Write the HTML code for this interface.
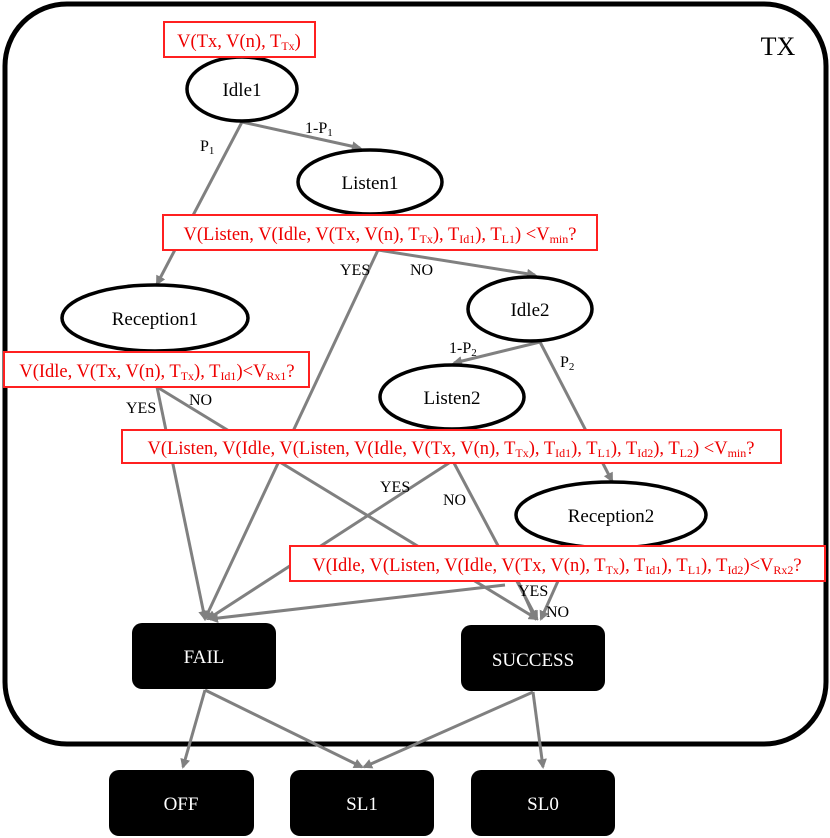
<!DOCTYPE html>
<html><head><style>body{margin:0;background:#fff}svg{display:block}</style></head><body>
<svg width="830" height="838" viewBox="0 0 830 838" xmlns="http://www.w3.org/2000/svg" font-family="Liberation Serif, serif">
<defs><marker id="a" markerWidth="10" markerHeight="10" refX="8" refY="5" orient="auto" markerUnits="userSpaceOnUse"><path d="M0,0 L10,5 L0,10 z" fill="#808080"/></marker></defs>
<rect x="5" y="4" width="821" height="740" rx="62" fill="none" stroke="#000" stroke-width="5"/>
<text x="778" y="55" font-size="26" text-anchor="middle">TX</text>
<g stroke="#808080" stroke-width="3" fill="none">
<line x1="242" y1="122" x2="360" y2="148" marker-end="url(#a)"/>
<line x1="242" y1="122" x2="157" y2="284" marker-end="url(#a)"/>
<line x1="378" y1="250" x2="205" y2="619" marker-end="url(#a)"/>
<line x1="378" y1="250" x2="535" y2="275" marker-end="url(#a)"/>
<line x1="540" y1="342" x2="454" y2="363" marker-end="url(#a)"/>
<line x1="540" y1="342" x2="612" y2="481" marker-end="url(#a)"/>
<line x1="157" y1="387" x2="205" y2="619" marker-end="url(#a)"/>
<line x1="157" y1="387" x2="537" y2="619" marker-end="url(#a)"/>
<line x1="449" y1="463" x2="208" y2="619" marker-end="url(#a)"/>
<line x1="454" y1="463" x2="537" y2="619" marker-end="url(#a)"/>
<line x1="505" y1="585" x2="210" y2="619" marker-end="url(#a)"/>
<line x1="518" y1="581" x2="535" y2="619" marker-end="url(#a)"/>
<line x1="558" y1="581" x2="541" y2="619" marker-end="url(#a)"/>
<line x1="205" y1="690" x2="183" y2="767" marker-end="url(#a)"/>
<line x1="205" y1="690" x2="362" y2="767" marker-end="url(#a)"/>
<line x1="533" y1="692" x2="364" y2="767" marker-end="url(#a)"/>
<line x1="533" y1="692" x2="543" y2="767" marker-end="url(#a)"/>
</g>
<g fill="#fff" stroke="#000" stroke-width="3.5">
<ellipse cx="242" cy="89" rx="55" ry="32"/>
<ellipse cx="370" cy="182" rx="72" ry="32"/>
<ellipse cx="155" cy="318" rx="93" ry="33"/>
<ellipse cx="530" cy="309" rx="62" ry="32"/>
<ellipse cx="452" cy="397" rx="72" ry="32"/>
<ellipse cx="611" cy="515" rx="95" ry="33"/>
</g>
<g font-size="19" text-anchor="middle">
<text x="242" y="96">Idle1</text>
<text x="370" y="189">Listen1</text>
<text x="155" y="325">Reception1</text>
<text x="530" y="316">Idle2</text>
<text x="452" y="404">Listen2</text>
<text x="611" y="522">Reception2</text>
</g>
<g fill="#fff" stroke="#ff2020" stroke-width="2">
<rect x="164" y="22" width="151" height="35"/>
<rect x="163" y="215" width="434" height="35"/>
<rect x="4" y="352" width="305" height="35"/>
<rect x="122" y="430" width="659" height="33"/>
<rect x="290" y="546" width="535" height="35"/>
</g>
<g fill="#e00" font-size="18.5" text-anchor="middle">
<text x="239" y="47">V(Tx, V(n), T<tspan font-size="12" dy="3">Tx</tspan><tspan dy="-3">)</tspan></text>
<text x="380" y="240">V(Listen, V(Idle, V(Tx, V(n), T<tspan font-size="12" dy="3">Tx</tspan><tspan dy="-3">), T</tspan><tspan font-size="12" dy="3">Id1</tspan><tspan dy="-3">), T</tspan><tspan font-size="12" dy="3">L1</tspan><tspan dy="-3">) &lt;V</tspan><tspan font-size="12" dy="3">min</tspan><tspan dy="-3">?</tspan></text>
<text x="157" y="377">V(Idle, V(Tx, V(n), T<tspan font-size="12" dy="3">Tx</tspan><tspan dy="-3">), T</tspan><tspan font-size="12" dy="3">Id1</tspan><tspan dy="-3">)&lt;V</tspan><tspan font-size="12" dy="3">Rx1</tspan><tspan dy="-3">?</tspan></text>
<text x="451" y="454">V(Listen, V(Idle, V(Listen, V(Idle, V(Tx, V(n), T<tspan font-size="12" dy="3">Tx</tspan><tspan dy="-3">), T</tspan><tspan font-size="12" dy="3">Id1</tspan><tspan dy="-3">), T</tspan><tspan font-size="12" dy="3">L1</tspan><tspan dy="-3">), T</tspan><tspan font-size="12" dy="3">Id2</tspan><tspan dy="-3">), T</tspan><tspan font-size="12" dy="3">L2</tspan><tspan dy="-3">) &lt;V</tspan><tspan font-size="12" dy="3">min</tspan><tspan dy="-3">?</tspan></text>
<text x="557" y="571">V(Idle, V(Listen, V(Idle, V(Tx, V(n), T<tspan font-size="12" dy="3">Tx</tspan><tspan dy="-3">), T</tspan><tspan font-size="12" dy="3">Id1</tspan><tspan dy="-3">), T</tspan><tspan font-size="12" dy="3">L1</tspan><tspan dy="-3">), T</tspan><tspan font-size="12" dy="3">Id2</tspan><tspan dy="-3">)&lt;V</tspan><tspan font-size="12" dy="3">Rx2</tspan><tspan dy="-3">?</tspan></text>
</g>
<g font-size="16">
<text x="305" y="133">1-P<tspan font-size="11" dy="3">1</tspan></text>
<text x="200" y="151">P<tspan font-size="11" dy="3">1</tspan></text>
<text x="340" y="275">YES</text>
<text x="410" y="275">NO</text>
<text x="449" y="353">1-P<tspan font-size="11" dy="3">2</tspan></text>
<text x="560" y="367">P<tspan font-size="11" dy="3">2</tspan></text>
<text x="126" y="413">YES</text>
<text x="189" y="405">NO</text>
<text x="380" y="492">YES</text>
<text x="443" y="505">NO</text>
<text x="518" y="596">YES</text>
<text x="546" y="617">NO</text>
</g>
<g fill="#000">
<rect x="132" y="623" width="144" height="66" rx="10"/>
<rect x="461" y="625" width="144" height="66" rx="10"/>
<rect x="109" y="770" width="145" height="66" rx="10"/>
<rect x="290" y="770" width="144" height="66" rx="10"/>
<rect x="471" y="770" width="144" height="66" rx="10"/>
</g>
<g fill="#fff" font-size="19" text-anchor="middle">
<text x="204" y="663">FAIL</text>
<text x="533" y="666">SUCCESS</text>
<text x="181" y="810">OFF</text>
<text x="362" y="810">SL1</text>
<text x="543" y="810">SL0</text>
</g>
</svg>
</body></html>
